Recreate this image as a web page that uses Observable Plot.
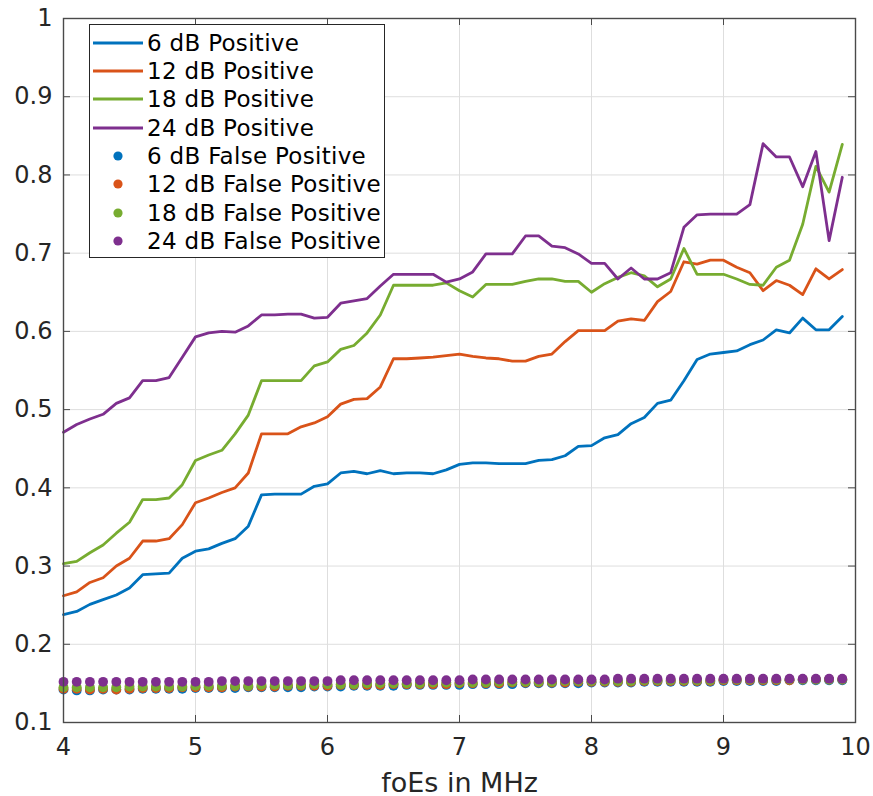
<!DOCTYPE html>
<html><head><meta charset="utf-8">
<script src="https://cdn.jsdelivr.net/npm/d3@7"></script>
<script src="https://cdn.jsdelivr.net/npm/@observablehq/plot@0.6"></script>
<style>
body{margin:0;background:#fff;}
#wrap{position:relative;width:873px;height:796px;font-family:"DejaVu Sans",sans-serif;}
#legend{position:absolute;left:89px;top:24px;width:296px;height:234px;border:1px solid #262626;background:#fff;box-sizing:border-box;}
.row{position:absolute;left:0;height:28px;display:flex;align-items:center;font-size:23px;letter-spacing:0.3px;color:#000;white-space:nowrap;}
.row svg{display:block;}
</style></head>
<body><div id="wrap"><div id="plot"></div><div id="legend"></div></div>
<script>
const freq = [4.0,4.1,4.2,4.3,4.4,4.5,4.6,4.7,4.8,4.9,
  5.0,5.1,5.2,5.3,5.4,5.5,5.6,5.7,5.8,5.9,
  6.0,6.1,6.2,6.3,6.4,6.5,6.6,6.7,6.8,6.9,
  7.0,7.1,7.2,7.3,7.4,7.5,7.6,7.7,7.8,7.9,
  8.0,8.1,8.2,8.3,8.4,8.5,8.6,8.7,8.8,8.9,
  9.0,9.1,9.2,9.3,9.4,9.5,9.6,9.7,9.8,9.9];

const pos6 = [0.238,0.242,0.251,0.257,0.263,0.272,0.289,0.290,0.291,0.310,
  0.319,0.322,0.329,0.335,0.351,0.391,0.392,0.392,0.392,0.402,
  0.405,0.419,0.421,0.418,0.422,0.418,0.419,0.419,0.418,0.423,
  0.430,0.432,0.432,0.431,0.431,0.431,0.435,0.436,0.441,0.453,
  0.454,0.464,0.468,0.482,0.490,0.508,0.512,0.537,0.564,0.571,
  0.573,0.575,0.583,0.589,0.602,0.598,0.617,0.602,0.602,0.619];
const pos12 = [0.262,0.267,0.279,0.285,0.300,0.310,0.332,0.332,0.335,0.353,
  0.381,0.387,0.394,0.400,0.419,0.469,0.469,0.469,0.478,0.483,
  0.491,0.507,0.513,0.514,0.529,0.565,0.565,0.566,0.567,0.569,
  0.571,0.568,0.566,0.565,0.562,0.562,0.568,0.571,0.587,0.601,
  0.601,0.601,0.613,0.616,0.614,0.638,0.651,0.689,0.686,0.691,
  0.691,0.682,0.675,0.652,0.665,0.659,0.647,0.680,0.667,0.679];
const pos18 = [0.303,0.306,0.317,0.327,0.342,0.356,0.385,0.385,0.387,0.404,
  0.435,0.442,0.448,0.469,0.493,0.537,0.537,0.537,0.537,0.556,
  0.561,0.577,0.582,0.598,0.621,0.659,0.659,0.659,0.659,0.662,
  0.652,0.644,0.660,0.660,0.660,0.664,0.667,0.667,0.664,0.664,
  0.650,0.661,0.669,0.675,0.671,0.657,0.667,0.706,0.673,0.673,
  0.673,0.667,0.660,0.659,0.682,0.691,0.737,0.811,0.778,0.839];
const pos24 = [0.471,0.481,0.488,0.494,0.508,0.515,0.537,0.537,0.541,0.567,
  0.593,0.598,0.600,0.599,0.607,0.621,0.621,0.622,0.622,0.617,
  0.618,0.636,0.639,0.642,0.658,0.673,0.673,0.673,0.673,0.663,
  0.667,0.676,0.699,0.699,0.699,0.722,0.722,0.709,0.707,0.699,
  0.687,0.687,0.667,0.681,0.667,0.667,0.675,0.733,0.749,0.750,
  0.750,0.750,0.762,0.840,0.823,0.823,0.785,0.830,0.716,0.797];

const fp6 = [0.142,0.141,0.141,0.142,0.142,0.142,0.143,0.143,0.143,0.143,
  0.144,0.144,0.144,0.144,0.145,0.145,0.145,0.145,0.145,0.146,
  0.146,0.146,0.147,0.147,0.147,0.147,0.148,0.148,0.148,0.148,
  0.148,0.149,0.149,0.149,0.149,0.150,0.150,0.150,0.150,0.150,
  0.151,0.151,0.151,0.151,0.152,0.152,0.152,0.152,0.152,0.152,
  0.153,0.153,0.153,0.153,0.153,0.154,0.154,0.154,0.154,0.154];
const fp12 = [0.143,0.143,0.142,0.143,0.142,0.143,0.144,0.144,0.144,0.145,
  0.145,0.145,0.145,0.146,0.146,0.146,0.146,0.147,0.147,0.147,
  0.147,0.148,0.148,0.148,0.148,0.149,0.149,0.149,0.149,0.149,
  0.150,0.150,0.150,0.150,0.151,0.151,0.151,0.151,0.151,0.152,
  0.152,0.152,0.152,0.152,0.153,0.153,0.153,0.153,0.153,0.153,
  0.154,0.154,0.154,0.154,0.154,0.154,0.155,0.155,0.155,0.155];
const fp18 = [0.145,0.145,0.145,0.145,0.145,0.146,0.146,0.146,0.146,0.146,
  0.147,0.147,0.147,0.147,0.147,0.148,0.148,0.148,0.148,0.149,
  0.149,0.149,0.149,0.150,0.150,0.150,0.150,0.150,0.151,0.151,
  0.151,0.151,0.151,0.152,0.152,0.152,0.152,0.152,0.153,0.153,
  0.153,0.153,0.153,0.153,0.154,0.154,0.154,0.154,0.154,0.154,
  0.155,0.155,0.155,0.155,0.155,0.155,0.155,0.155,0.155,0.155];
const fp24 = [0.152,0.152,0.152,0.152,0.152,0.152,0.152,0.152,0.152,0.152,
  0.152,0.152,0.153,0.153,0.153,0.153,0.153,0.153,0.153,0.153,
  0.153,0.154,0.154,0.154,0.154,0.154,0.154,0.154,0.154,0.154,
  0.154,0.155,0.155,0.155,0.155,0.155,0.155,0.155,0.155,0.155,
  0.155,0.155,0.156,0.156,0.156,0.156,0.156,0.156,0.156,0.156,
  0.156,0.156,0.156,0.156,0.156,0.156,0.156,0.156,0.156,0.156];

const seriesDb = ["6 dB", "12 dB", "18 dB", "24 dB"];
const seriesColors = ["#0072BD", "#D95319", "#77AC30", "#7E2F8E"];
const positiveSeries = [pos6, pos12, pos18, pos24];
const falsePosSeries = [fp6, fp12, fp18, fp24];
const xTicks = [4, 5, 6, 7, 8, 9, 10];
const yTicks = [0.1, 0.2, 0.3, 0.4, 0.5, 0.6, 0.7, 0.8, 0.9, 1];
const yTickLabels = ["0.1","0.2","0.3","0.4","0.5","0.6","0.7","0.8","0.9","1"];
const xLabel = "foEs in MHz";

const lineRows = [];
const dotRows = [];
seriesDb.forEach((db, i) => {
  freq.forEach((f, j) => {
    lineRows.push({db, f, v: positiveSeries[i][j]});
    dotRows.push({db, f, v: falsePosSeries[i][j]});
  });
});

const W = 873, H = 796, mL = 63, mR = 18, mT = 18, mB = 74;
const innerW = W - mL - mR, innerH = H - mT - mB, tk = 7;
const axisColor = "#4a4a4a";

const chart = Plot.plot({
  width: W, height: H,
  marginLeft: mL, marginRight: mR, marginTop: mT, marginBottom: mB,
  style: {fontFamily: "DejaVu Sans, sans-serif", fontSize: "24px", color: "#262626", background: "#fff"},
  x: {domain: [4, 10]},
  y: {domain: [0.1, 1]},
  color: {domain: seriesDb, range: seriesColors},
  marks: [
    Plot.gridX(xTicks, {stroke: "#dedede", strokeOpacity: 1, strokeWidth: 1}),
    Plot.gridY(yTicks, {stroke: "#dedede", strokeOpacity: 1, strokeWidth: 1}),
    Plot.line(lineRows, {x: "f", y: "v", z: "db", stroke: "db", strokeWidth: 2.8}),
    Plot.dot(dotRows, {x: "f", y: "v", fill: "db", r: 4.9}),
    Plot.tickX(xTicks, {x: d => d, insetTop: innerH - tk, stroke: axisColor}),
    Plot.tickX(xTicks, {x: d => d, insetBottom: innerH - tk, stroke: axisColor}),
    Plot.tickY(yTicks, {y: d => d, insetRight: innerW - tk, stroke: axisColor}),
    Plot.tickY(yTicks, {y: d => d, insetLeft: innerW - tk, stroke: axisColor}),
    Plot.frame({stroke: axisColor, strokeWidth: 1.4}),
    Plot.axisX(xTicks, {tickSize: 0, tickPadding: 15, fontSize: 24, label: null, tickFormat: d => String(d)}),
    Plot.axisY(yTicks, {tickSize: 0, tickPadding: 11, fontSize: 24, label: null, tickFormat: (d, i) => yTickLabels[i]}),
    Plot.text([xLabel], {text: d => d, frameAnchor: "bottom", dy: 69, fontSize: 27, lineAnchor: "bottom", fill: "#262626"})
  ]
});
document.getElementById("plot").appendChild(chart);

// Legend (inside axes, upper left)
const legend = document.getElementById("legend");
const entries = [];
seriesDb.forEach((db, i) => entries.push({label: db + " Positive", color: seriesColors[i], kind: "line"}));
seriesDb.forEach((db, i) => entries.push({label: db + " False Positive", color: seriesColors[i], kind: "dot"}));
entries.forEach((e, i) => {
  const row = document.createElement("div");
  row.className = "row";
  row.style.top = (3.7 + 28.33 * i) + "px";
  const sw = e.kind === "line"
    ? `<svg width="57" height="28"><line x1="3" x2="53" y1="14" y2="14" stroke="${e.color}" stroke-width="2.8"/></svg>`
    : `<svg width="57" height="28"><circle cx="28" cy="14" r="4.6" fill="${e.color}"/></svg>`;
  row.innerHTML = sw + `<span>${e.label}</span>`;
  legend.appendChild(row);
});
</script>
</body></html>
